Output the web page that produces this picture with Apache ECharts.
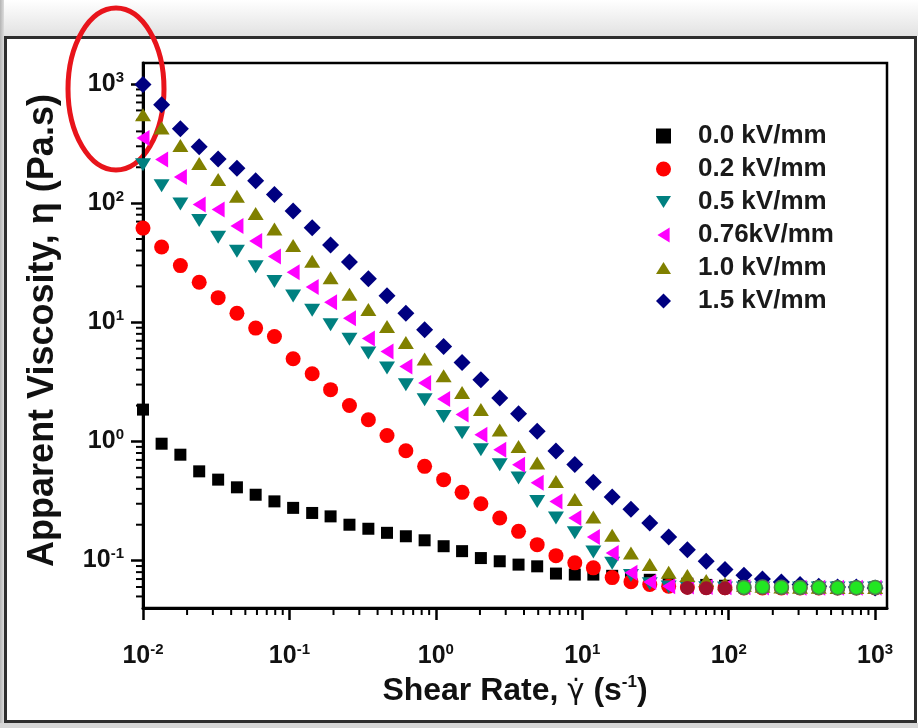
<!DOCTYPE html>
<html>
<head>
<meta charset="utf-8">
<script src="https://cdn.jsdelivr.net/npm/echarts@6/dist/echarts.min.js"></script>
<style>
  html, body { margin: 0; padding: 0; background: #ffffff; }
  #chart { width: 918px; height: 728px; }
</style>
</head>
<body>
<div id="chart"></div>
<script>
// Shear rate sweep (1/s), logarithmically spaced
const shearRate = [0.0100, 0.0134, 0.0180, 0.0242, 0.0326, 0.0438, 0.0588, 0.0790, 0.106, 0.143,
  0.191, 0.257, 0.346, 0.464, 0.624, 0.838, 1.13, 1.51, 2.03, 2.73,
  3.67, 4.92, 6.61, 8.89, 11.9, 16.0, 21.5, 28.9, 38.9, 52.2,
  70.2, 94.3, 127, 170, 229, 307, 412, 554, 744, 1000];

// Apparent viscosity (Pa.s) at each field strength
const eta_0_0 = [1.85, 0.957, 0.774, 0.561, 0.478, 0.412, 0.357, 0.314, 0.277, 0.251,
  0.235, 0.200, 0.185, 0.171, 0.160, 0.148, 0.132, 0.120, 0.105, 0.0987,
  0.0925, 0.0895, 0.0778, 0.0763, 0.0763, 0.0745, 0.0731, 0.0690, 0.0660, 0.0640,
  0.0625, 0.0615, 0.0610, 0.0605, 0.0600, 0.0600, 0.0598, 0.0596, 0.0595, 0.0595];
const eta_0_2 = [61.7, 42.8, 29.9, 21.7, 16.1, 11.9, 8.94, 7.60, 4.94, 3.70,
  2.72, 2.00, 1.52, 1.12, 0.836, 0.618, 0.478, 0.374, 0.300, 0.228,
  0.176, 0.136, 0.110, 0.0957, 0.0869, 0.0720, 0.0665, 0.0630, 0.0610, 0.0600,
  0.0595, 0.0592, 0.0590, 0.0590, 0.0590, 0.0588, 0.0588, 0.0588, 0.0588, 0.0588];
const eta_0_5 = [210, 140, 98.5, 71.5, 51.8, 39.4, 29.3, 22.0, 16.6, 12.6,
  9.52, 7.20, 5.52, 4.13, 2.99, 2.24, 1.62, 1.18, 0.853, 0.638,
  0.494, 0.314, 0.228, 0.171, 0.118, 0.0950, 0.0750, 0.0640, 0.0600, 0.0595,
  0.0592, 0.0590, 0.0590, 0.0590, 0.0588, 0.0588, 0.0588, 0.0588, 0.0588, 0.0588];
const eta_0_76 = [352, 232, 166, 97.3, 88.5, 64.2, 48.2, 35.7, 26.3, 19.8,
  14.7, 10.8, 7.30, 5.69, 4.26, 3.09, 2.27, 1.68, 1.14, 0.853,
  0.638, 0.449, 0.314, 0.228, 0.158, 0.116, 0.0790, 0.0660, 0.0610, 0.0605,
  0.0600, 0.0598, 0.0596, 0.0595, 0.0594, 0.0593, 0.0592, 0.0592, 0.0592, 0.0592];
const eta_1_0 = [553, 428, 304, 215, 158, 114, 81.7, 60.8, 44.0, 32.6,
  23.6, 17.2, 12.8, 9.23, 6.77, 4.91, 3.56, 2.58, 1.85, 1.25,
  0.908, 0.659, 0.462, 0.325, 0.232, 0.163, 0.116, 0.0925, 0.0800, 0.0750,
  0.0680, 0.0640, 0.0620, 0.0610, 0.0600, 0.0598, 0.0596, 0.0595, 0.0595, 0.0595];
const eta_1_5 = [990, 670, 420, 297, 235, 196, 154, 118, 86.0, 62.0,
  44.5, 32.0, 23.2, 16.7, 11.9, 8.65, 6.27, 4.60, 3.30, 2.31,
  1.71, 1.22, 0.830, 0.640, 0.455, 0.342, 0.270, 0.207, 0.158, 0.123,
  0.0986, 0.0841, 0.0755, 0.0700, 0.0660, 0.0630, 0.0610, 0.0600, 0.0600, 0.0590];
// Overlapping plateau markers at high shear rate
const eta_wine = [null, null, null, null, null, null, null, null, null, null,
  null, null, null, null, null, null, null, null, null, null,
  null, null, null, null, null, null, null, null, null, 0.0590,
  0.0585, 0.0585, 0.0590, null, null, null, null, null, null, null];
const eta_green = [null, null, null, null, null, null, null, null, null, null,
  null, null, null, null, null, null, null, null, null, null,
  null, null, null, null, null, null, null, null, null, null,
  null, null, 0.0595, 0.0600, 0.0598, 0.0595, 0.0595, 0.0592, 0.0592, 0.0595];

const seriesNames = ['0.0 kV/mm', '0.2 kV/mm', '0.5 kV/mm', '0.76kV/mm', '1.0 kV/mm', '1.5 kV/mm'];
const xMajor = [0.01, 0.1, 1, 10, 100, 1000];
const yMajor = [0.1, 1, 10, 100, 1000];

const FONT = '"Liberation Sans", Arial, sans-serif';
const X_MIN = 0.01, X_MAX = 1205, Y_MIN = 0.04, Y_MAX = 1500;

// minor tick positions (2..9 within each decade)
function minorTicks(lo, hi) {
  const out = [];
  for (let d = -3; d <= 3; d++) {
    for (let m = 2; m <= 9; m++) {
      const v = m * Math.pow(10, d);
      if (v > lo && v < hi) out.push(v);
    }
  }
  return out;
}
const xMinor = minorTicks(X_MIN, X_MAX);
const yMinor = minorTicks(Y_MIN, Y_MAX);

function pairs(ys) {
  const out = [];
  ys.forEach((y, i) => { if (y != null) out.push([shearRate[i], y]); });
  return out;
}

const powLabel = v => '{b|10}{s|' + Math.round(Math.log10(v)) + '}';
const powRich = {
  b: { fontSize: 25, fontWeight: 'bold', fontFamily: FONT, color: '#111', lineHeight: 28 },
  s: { fontSize: 15, fontWeight: 'bold', fontFamily: FONT, color: '#111', lineHeight: 15, verticalAlign: 'top' }
};

const chart = echarts.init(document.getElementById('chart'), null, { renderer: 'canvas' });

function scatter(name, ys, symbol, size, color, rotate, extraStyle) {
  return {
    name: name,
    type: 'scatter',
    data: pairs(ys),
    symbol: symbol,
    symbolSize: size,
    symbolRotate: rotate || 0,
    itemStyle: Object.assign({ color: color, opacity: 1 }, extraStyle || {}),
    emphasis: { disabled: true },
    animation: false
  };
}

const baseGraphics = [
  // page backdrop around the framed figure (kept clear of the plot area)
  { type: 'rect', silent: true, shape: { x: 0, y: 0, width: 918, height: 36 },
    style: { fill: new echarts.graphic.LinearGradient(0, 0, 0, 1, [
      { offset: 0, color: '#ffffff' }, { offset: 1, color: '#e2e2e2' }]) } },
  { type: 'rect', silent: true, shape: { x: 0, y: 0, width: 4, height: 728 },
    style: { fill: new echarts.graphic.LinearGradient(0, 0, 1, 0, [
      { offset: 0, color: '#b4b4b4' }, { offset: 1, color: '#dddddd' }]) } },
  { type: 'rect', silent: true, shape: { x: 0, y: 723, width: 918, height: 5 },
    style: { fill: '#d6d6d6' } },
  { type: 'rect', silent: true, shape: { x: 5.5, y: 37.5, width: 910, height: 684 },
    style: { fill: 'none', stroke: '#2e2e2e', lineWidth: 3 } },
  // highlight ring around the top label
  { type: 'ellipse', silent: true, shape: { cx: 116, cy: 89, rx: 48, ry: 81 },
    style: { fill: 'none', stroke: '#e8141b', lineWidth: 5 } }
];

chart.setOption({
  animation: false,
  grid: {
    left: 143, top: 63, width: 744, height: 545,
    show: true, borderColor: '#000', borderWidth: 2.5
  },
  legend: {
    orient: 'vertical',
    left: 651, top: 118,
    itemWidth: 15, itemHeight: 15, itemGap: 7,
    data: [
      { name: seriesNames[0], icon: 'rect' },
      { name: seriesNames[1], icon: 'circle' },
      { name: seriesNames[2], icon: 'path://M0,0 L16,0 L8,13 Z' },
      { name: seriesNames[3], icon: 'path://M13,0 L13,16 L0,8 Z' },
      { name: seriesNames[4], icon: 'path://M8,0 L16,13 L0,13 Z' },
      { name: seriesNames[5], icon: 'diamond' }
    ],
    textStyle: { fontFamily: FONT, fontWeight: 'bold', fontSize: 26, color: '#1a1a1a', lineHeight: 24, padding: [0, 0, 0, 22] },
    selectedMode: false
  },
  xAxis: {
    type: 'log', min: X_MIN, max: X_MAX, position: 'bottom',
    axisLine: { show: true, onZero: false, lineStyle: { color: '#000', width: 3 } },
    axisTick: { show: true, inside: false, length: 12, customValues: xMajor, lineStyle: { color: '#000', width: 2.5 } },
    axisLabel: { show: true, customValues: xMajor, margin: 34, formatter: powLabel, rich: powRich },
    splitLine: { show: false },
    name: '{t|Shear Rate, }{g|γ̇}{t| (s}{s|-1}{t|)}',
    nameLocation: 'middle', nameGap: 64,
    nameTextStyle: {
      rich: {
        t: { fontSize: 32, fontWeight: 'bold', fontFamily: FONT, color: '#111', lineHeight: 36 },
        g: { fontSize: 29, fontWeight: 'normal', fontFamily: '"DejaVu Sans", sans-serif', color: '#111', lineHeight: 36 },
        s: { fontSize: 17, fontWeight: 'bold', fontFamily: FONT, color: '#111', lineHeight: 17, verticalAlign: 'top' }
      }
    }
  },
  yAxis: {
    type: 'log', min: Y_MIN, max: Y_MAX, position: 'left',
    axisLine: { show: true, onZero: false, lineStyle: { color: '#000', width: 3 } },
    axisTick: { show: true, inside: false, length: 12, customValues: yMajor, lineStyle: { color: '#000', width: 2.5 } },
    axisLabel: { show: true, customValues: yMajor, margin: 19, formatter: powLabel, rich: powRich },
    splitLine: { show: false },
    name: 'Apparent Viscosity, η (Pa.s)',
    nameLocation: 'middle', nameGap: 82, nameRotate: 90,
    nameTextStyle: { fontSize: 36, fontWeight: 'bold', fontFamily: FONT, color: '#111', padding: [0, 0, 0, 10] }
  },
  graphic: baseGraphics,
  series: [
    scatter(seriesNames[0], eta_0_0, 'rect', 12, '#000000'),
    scatter(seriesNames[1], eta_0_2, 'circle', 15, '#ff0000'),
    scatter(seriesNames[2], eta_0_5, 'triangle', [16, 13], '#008080', 180),
    scatter(seriesNames[3], eta_0_76, 'triangle', [16, 13], '#ff00ff', 90),
    scatter(seriesNames[4], eta_1_0, 'triangle', [16, 13], '#808000'),
    scatter(seriesNames[5], eta_1_5, 'diamond', [17, 17], '#000080'),
    scatter('wine', eta_wine, 'circle', 14, '#a0102c'),
    scatter('green', eta_green, 'circle', 14, '#22e622', 0, { borderColor: '#4d7d4d', borderWidth: 1.5 })
  ]
});

// Short outward minor ticks, positioned through the axes' own value-to-pixel mapping
const minorMarks = [];
function addMinor(value, axis) {
  const p = axis === 'x'
    ? chart.convertToPixel({ gridIndex: 0 }, [value, Y_MIN])
    : chart.convertToPixel({ gridIndex: 0 }, [X_MIN, value]);
  const shape = axis === 'x'
    ? { x1: p[0], y1: p[1], x2: p[0], y2: p[1] + 7 }
    : { x1: p[0], y1: p[1], x2: p[0] - 7, y2: p[1] };
  minorMarks.push({ type: 'line', silent: true, shape: shape, style: { stroke: '#000', lineWidth: 2 } });
}
xMinor.forEach(v => addMinor(v, 'x'));
yMinor.forEach(v => addMinor(v, 'y'));

chart.setOption({ graphic: baseGraphics.concat(minorMarks) });
</script>
</body>
</html>
